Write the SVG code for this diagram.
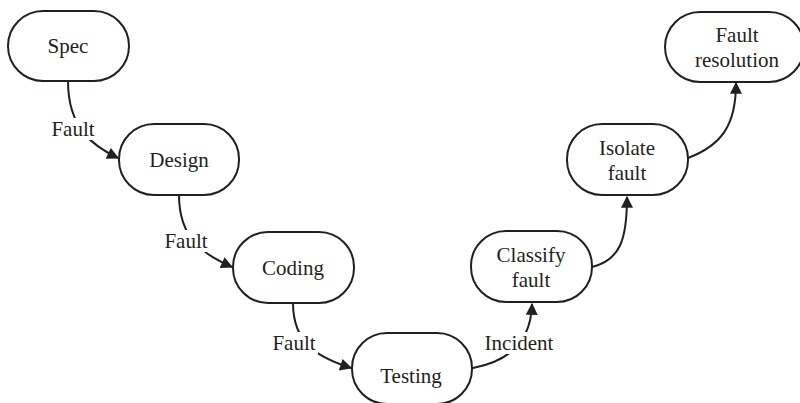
<svg xmlns="http://www.w3.org/2000/svg" width="800" height="403" viewBox="0 0 800 403">
<defs>
<style>
.box{fill:#fff;stroke:#231f20;stroke-width:2}
.t{font-family:'Liberation Serif','Times New Roman','DejaVu Serif',serif;font-size:21px;fill:#231f20;text-anchor:middle}
.c{fill:none;stroke:#231f20;stroke-width:2}
.lb{fill:#fff;stroke:none}
</style>
<marker id="ah" viewBox="0 0 10 10" refX="9" refY="5" markerWidth="13" markerHeight="12" markerUnits="userSpaceOnUse" orient="auto">
<path d="M0,0 L10,5 L0,10 Z" fill="#231f20"/>
</marker>
</defs>
<rect width="800" height="403" fill="#fff"/>
<g id="connectors">
<path class="c" d="M68,81 C68,130 95,147 118,158" marker-end="url(#ah)"/>
<path class="c" d="M179,195 C179,240 205,255 232,267" marker-end="url(#ah)"/>
<path class="c" d="M293,303 C293,345 320,358 351,368" marker-end="url(#ah)"/>
<path class="c" d="M473,368 C505,362 531,345 532,304" marker-end="url(#ah)"/>
<path class="c" d="M592,267 C620,260 627,240 627,197" marker-end="url(#ah)"/>
<path class="c" d="M688,158 C722,145 736,125 736,83" marker-end="url(#ah)"/>
<rect class="lb" x="49" y="118" width="48" height="22"/>
<text class="t" x="73" y="136" font-family="Liberation Serif, serif">Fault</text>
<rect class="lb" x="162" y="230" width="48" height="22"/>
<text class="t" x="186" y="248">Fault</text>
<rect class="lb" x="270" y="332" width="48" height="22"/>
<text class="t" x="294" y="350">Fault</text>
<rect class="lb" x="480" y="332" width="78" height="22"/>
<text class="t" x="519" y="350">Incident</text>
</g>
<g id="spec"><rect class="box" x="8" y="11" width="121" height="70" rx="35"/><text class="t" x="68" y="53">Spec</text></g>
<g id="design"><rect class="box" x="119" y="124" width="120" height="71" rx="35"/><text class="t" x="179" y="167">Design</text></g>
<g id="coding"><rect class="box" x="233" y="232" width="121" height="71" rx="35"/><text class="t" x="293" y="275">Coding</text></g>
<g id="testing"><rect class="box" x="352" y="333" width="120" height="71" rx="35"/><text class="t" x="411" y="383">Testing</text></g>
<g id="classify"><rect class="box" x="471" y="231" width="121" height="71" rx="35"/><text class="t" x="531" y="262">Classify</text><text class="t" x="531" y="287">fault</text></g>
<g id="isolate"><rect class="box" x="567" y="124" width="121" height="71" rx="35"/><text class="t" x="627" y="155">Isolate</text><text class="t" x="627" y="180">fault</text></g>
<g id="resolution"><rect class="box" x="665" y="12" width="139" height="70" rx="35"/><text class="t" x="737" y="42">Fault</text><text class="t" x="737" y="67">resolution</text></g>
</svg>
